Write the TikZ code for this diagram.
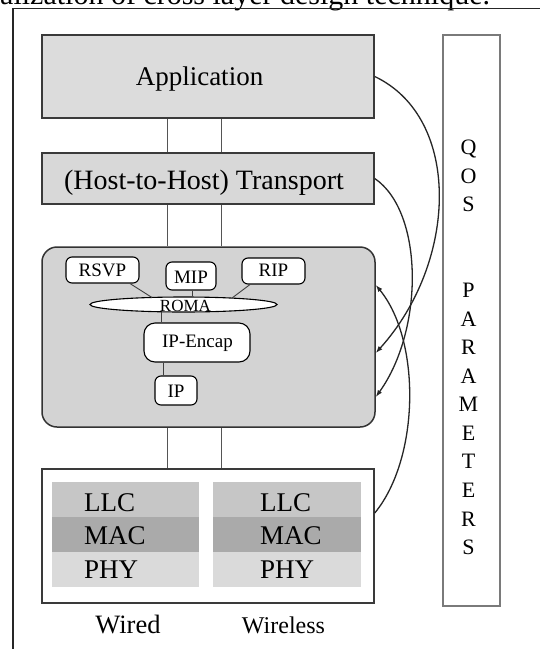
\documentclass[tikz,border=0pt]{standalone}
\usepackage{fontspec}
\setmainfont{Liberation Serif}
\usetikzlibrary{shapes.geometric,arrows.meta}
\definecolor{edgec}{HTML}{3A3A3A}
\definecolor{appfill}{HTML}{DCDCDC}
\definecolor{trfill}{HTML}{D8D8D8}
\definecolor{netfill}{HTML}{D3D3D3}
\definecolor{llcc}{HTML}{C6C6C6}
\definecolor{macc}{HTML}{AAAAAA}
\definecolor{phyc}{HTML}{DADADA}
\definecolor{qosc}{HTML}{7A7A7A}
\definecolor{linkc}{HTML}{555555}
\begin{document}
\begin{tikzpicture}[x=1pt,y=-1pt,
  layer/.style={draw=edgec, line width=1.5pt, rectangle, inner sep=0pt},
  proto/.style={draw=black, line width=1.1pt, fill=white, rounded corners=6pt, rectangle, inner sep=0pt},
  band/.style={rectangle, inner sep=0pt, minimum height=35pt},
  lbl/.style={inner sep=0pt, font=\fontsize{27}{32}\selectfont},
  small/.style={inner sep=0pt, font=\fontsize{19}{23}\selectfont},
  qosl/.style={inner sep=0pt, anchor=base, font=\fontsize{22}{26}\selectfont},
  vlink/.style={draw=linkc, line width=1pt},
  plink/.style={draw=black!75, line width=0.9pt},
  curve/.style={draw=black!85, line width=1.3pt, -{Latex[length=7pt,width=5pt]}},
  frame/.style={draw=black!85, line width=1.5pt}
]
\useasboundingbox (0,0) rectangle (540,649);
\fill[white] (0,0) rectangle (540,649);
% clipped caption
\begin{scope}
\clip (0,0) rectangle (540,649);
\node[inner sep=0pt, anchor=base west, font=\fontsize{30}{36}\selectfont] (cap) at (0,4) {alization of cross layer design technique.};
\end{scope}
% outer frame
\coordinate (f1) at (13,649);
\coordinate (f2) at (13,8.5);
\coordinate (f3) at (540,8.5);
\draw[frame] (f1) -- (f2) -- (f3);

% layers
\node[layer, fill=appfill, minimum width=332pt, minimum height=83pt] (app) at (208,76.5) {};
\node[lbl, anchor=base] (appt) at (199.5,85) {Application};
\node[layer, fill=trfill, minimum width=332pt, minimum height=51pt] (tr) at (208,178.5) {};
\node[lbl, anchor=base, font=\fontsize{28}{32}\selectfont] (trt) at (204,189) {(Host-to-Host) Transport};
\node[layer, draw=black!80, fill=netfill, rounded corners=15pt, minimum width=333pt, minimum height=180pt] (net) at (208.5,337) {};
\node[layer, fill=white, minimum width=332pt, minimum height=134pt] (lk) at (208,536) {};

% vertical connectors
\foreach \xx in {167,221} {
  \draw[vlink] (\xx,0 |- app.south) -- (\xx,0 |- tr.north);
  \draw[vlink] (\xx,0 |- tr.south) -- (\xx,0 |- net.north);
  \draw[vlink] (\xx,0 |- net.south) -- (\xx,0 |- lk.north);
}

% network internals
\node[proto, minimum width=73pt, minimum height=26pt] (rsvp) at (102.5,270) {};
\node[small] (rsvpt) at (102.5,270.5) {RSVP};
\node[proto, minimum width=50pt, minimum height=28pt] (mip) at (191,276) {};
\node[small] (mipt) at (191,277) {MIP};
\node[proto, minimum width=63pt, minimum height=26pt] (rip) at (273.5,271) {};
\node[small] (ript) at (273.5,270.5) {RIP};
\node[draw=black, line width=1.1pt, fill=white, ellipse, inner sep=0pt, minimum width=187pt, minimum height=15pt] (roma) at (183.5,304.5) {};
\node[inner sep=0pt, anchor=base, font=\fontsize{17}{20}\selectfont] (romat) at (185.5,311) {ROMA};
\node[proto, rounded corners=11pt, minimum width=106pt, minimum height=39pt] (ipe) at (197,342.5) {};
\node[small] (ipet) at (197.5,343) {IP-Encap};
\node[proto, minimum width=42pt, minimum height=29pt] (ip) at (176,390.5) {};
\node[small] (ipt) at (176,391) {IP};

\draw[plink] (130,0 |- rsvp.south) -- (152,297.5);
\draw[plink] (192,0 |- mip.south) -- (192,0 |- roma.north);
\draw[plink] (250,0 |- rip.south) -- (232,298);
\draw[plink] (161,311.5) -- (161,0 |- ipe.north);
\draw[plink] (163,0 |- ipe.south) -- (163,0 |- ip.north);

% link layer stacks
\node[band, fill=llcc, minimum width=147pt] (wllc) at (125.5,499.5) {};
\node[band, fill=macc, minimum width=147pt] (wmac) at (125.5,534.5) {};
\node[band, fill=phyc, minimum width=147pt] (wphy) at (125.5,569.5) {};
\node[band, fill=llcc, minimum width=148pt] (rllc) at (287,499.5) {};
\node[band, fill=macc, minimum width=148pt] (rmac) at (287,534.5) {};
\node[band, fill=phyc, minimum width=148pt] (rphy) at (287,569.5) {};
\node[lbl, anchor=base west] (wllct) at (84,511) {LLC};
\node[lbl, anchor=base west] (wmact) at (84,544.5) {MAC};
\node[lbl, anchor=base west] (wphyt) at (84,578) {PHY};
\node[lbl, anchor=base west] (rllct) at (260,511) {LLC};
\node[lbl, anchor=base west] (rmact) at (260,544.5) {MAC};
\node[lbl, anchor=base west] (rphyt) at (260,578) {PHY};
\node[inner sep=0pt, anchor=base, font=\fontsize{26.5}{30}\selectfont] (wired) at (128,633) {Wired};
\node[inner sep=0pt, anchor=base, font=\fontsize{24}{28}\selectfont] (wless) at (283.5,633) {Wireless};

% QOS box
\node[draw=qosc, line width=1.5pt, rectangle, inner sep=0pt, minimum width=57pt, minimum height=571pt] (qos) at (471.5,320.5) {};
\foreach \l/\k in {Q/0,O/1,S/2,P/5,A/6,R/7,A/8,M/9,E/10,T/11,E/12,R/13,S/14} {
  \node[qosl] (q\k) at (468.5,154.6+28.57*\k) {\l};
}

% curves
\draw[curve] (app.east) .. controls (462,118) and (458,262) .. (net.east |- 0,353);
\draw[curve] (tr.east) .. controls (424,212) and (424,330) .. (net.east |- 0,397);
\draw[curve] (lk.east |- 0,513) .. controls (420,458) and (421,340) .. (net.east |- 0,285);
\end{tikzpicture}
\end{document}
